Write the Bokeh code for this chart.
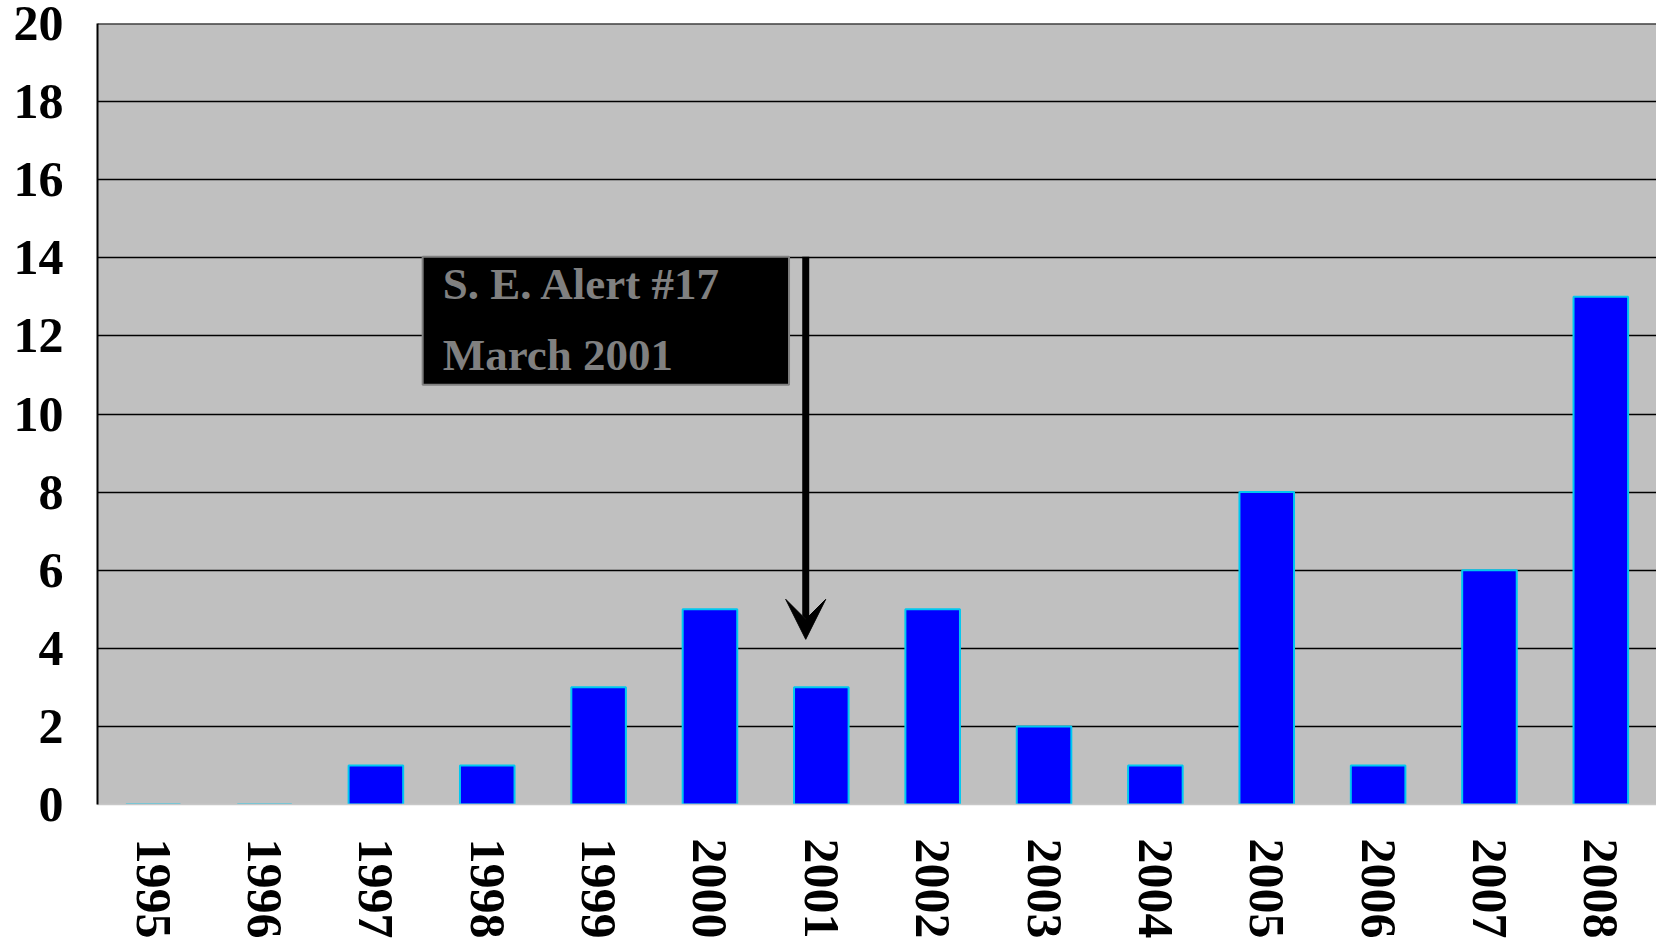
import math
from bokeh.plotting import figure
from bokeh.models import (ColumnDataSource, FixedTicker, Arrow, VeeHead, Span, Range1d)
from bokeh.core.properties import value
from bokeh.embed import file_html
from bokeh.resources import INLINE

years = ["1995", "1996", "1997", "1998", "1999", "2000", "2001",
         "2002", "2003", "2004", "2005", "2006", "2007", "2008"]
counts = [0, 0, 1, 1, 3, 5, 3, 5, 2, 1, 8, 1, 6, 13]
y_ticks = [0, 2, 4, 6, 8, 10, 12, 14, 16, 18, 20]
note_lines = ["S. E. Alert  #17", "March 2001"]

FONT = "Liberation Serif"

src = ColumnDataSource(data=dict(year=years, count=counts))

p = figure(x_range=years, y_range=Range1d(0, 20), width=1656, height=943,
           output_backend="svg", toolbar_location=None,
           min_border_left=97, min_border_right=0, min_border_top=23,
           min_border_bottom=139)
p.background_fill_color = "#C0C0C0"
p.border_fill_color = "white"
p.outline_line_color = None

p.vbar(x="year", top="count", width=0.49, source=src,
       fill_color="#0000FF", line_color="#00C8F0", line_width=2)

# grid
p.xgrid.grid_line_color = None
p.ygrid.grid_line_color = "black"
p.ygrid.grid_line_width = 1.5
p.ygrid.ticker = FixedTicker(ticks=y_ticks)
p.add_layout(Span(location=20, dimension="width", line_color="black", line_width=2))

# y axis
p.yaxis.ticker = FixedTicker(ticks=y_ticks)
p.yaxis.axis_line_color = "black"
p.yaxis.axis_line_width = 2
p.yaxis.major_tick_line_color = None
p.yaxis.minor_tick_line_color = None
p.yaxis.major_label_text_font = FONT
p.yaxis.major_label_text_font_style = "bold"
p.yaxis.major_label_text_font_size = "50px"
p.yaxis.major_label_text_color = "black"
p.yaxis.major_label_standoff = 28

# x axis
p.xaxis.axis_line_color = "#C8C8C8"
p.xaxis.axis_line_width = 1.5
p.xaxis.major_tick_line_color = None
p.xaxis.minor_tick_line_color = None
p.xaxis.major_label_orientation = -math.pi / 2
p.xaxis.major_label_text_font = FONT
p.xaxis.major_label_text_font_style = "bold"
p.xaxis.major_label_text_font_size = "50px"
p.xaxis.major_label_text_color = "black"
p.xaxis.major_label_standoff = 28

# annotation box
p.quad(left=[2.92], right=[6.21], bottom=[10.75], top=[14.03],
       fill_color="black", line_color="#808080", line_width=2)
p.text(x=[3.10, 3.10], y=[13.32, 11.50], text=note_lines,
       text_font=value(FONT), text_font_style="bold", text_font_size="45px",
       text_color="#808080", text_baseline="alphabetic", text_align="left")

# arrow
p.add_layout(Arrow(x_start=6.36, y_start=14.03, x_end=6.36, y_end=4.23,
                   line_color="black", line_width=7,
                   end=VeeHead(size=40, fill_color="black", line_color="black")))

open("out.html", "w").write(file_html(p, INLINE))
